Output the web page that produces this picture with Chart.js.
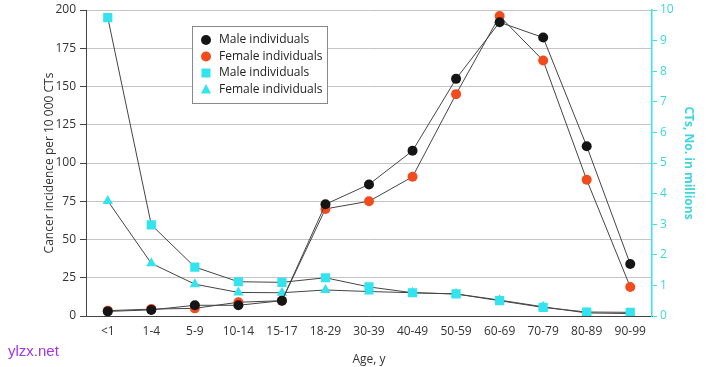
<!DOCTYPE html>
<html>
<head>
<meta charset="utf-8">
<script src="https://cdn.jsdelivr.net/npm/chart.js@4.4.1/dist/chart.umd.min.js"></script>
<style>
  html, body { margin: 0; padding: 0; background: #fff; }
  #wrap { position: relative; width: 724px; height: 367px; }
  #mark { position: absolute; left: 8px; top: 342px; font: 15px "Liberation Sans", Arial, sans-serif; color: #a335e8; }
</style>
</head>
<body>
<div id="wrap">
  <canvas id="chart" width="724" height="367"></canvas>
  <div id="mark">ylzx.net</div>
</div>
<script>
var ageGroups = ['<1', '1-4', '5-9', '10-14', '15-17', '18-29', '30-39', '40-49', '50-59', '60-69', '70-79', '80-89', '90-99'];

// cancer incidence per 10 000 CTs (left axis)
var maleIncidence   = [3, 4, 7, 7, 10, 73, 86, 108, 155, 192, 182, 111, 34];
var femaleIncidence = [3.5, 4.5, 5, 9, 10, 70, 75, 91, 145, 196, 167, 89, 19];

// number of CTs in millions (right axis)
var maleCTs   = [9.75, 2.98, 1.6, 1.12, 1.1, 1.25, 0.95, 0.76, 0.72, 0.5, 0.28, 0.13, 0.12];
var femaleCTs = [3.76, 1.72, 1.04, 0.77, 0.76, 0.85, 0.8, 0.76, 0.72, 0.52, 0.3, 0.1, 0.08];

var leftTicks = [0, 25, 50, 75, 100, 125, 150, 175, 200];
var rightTicks = [0, 1, 2, 3, 4, 5, 6, 7, 8, 9, 10];

var CYAN = '#33e3ee';
var CYAN_TEXT = '#3fd6e0';
var RED = '#f24b1e';
var BLACK = '#151515';
var LINE = '#444';
var FONT = '"Open Sans", "Liberation Sans", sans-serif';

// legend box drawn inside the plot, like the original figure
var boxLegend = {
  id: 'boxLegend',
  afterDraw: function (chart) {
    var c = chart.ctx;
    var a = chart.chartArea;
    var x0 = a.left + 106, y0 = a.top + 16, w = 135, h = 77;
    c.save();
    c.fillStyle = '#fff';
    c.fillRect(x0, y0, w, h);
    c.strokeStyle = '#888';
    c.lineWidth = 1;
    c.strokeRect(x0 + 0.5, y0 + 0.5, w, h);
    c.font = '12px ' + FONT;
    c.textBaseline = 'middle';
    chart.data.datasets.forEach(function (ds, i) {
      var y = y0 + 14 + i * 16.5;
      var x = x0 + 14;
      c.fillStyle = ds.pointBackgroundColor;
      c.beginPath();
      if (ds.pointStyle === 'circle') {
        c.arc(x, y, 5, 0, Math.PI * 2);
      } else if (ds.pointStyle === 'rect') {
        c.rect(x - 4.5, y - 4.5, 9, 9);
      } else {
        c.moveTo(x, y - 5.5); c.lineTo(x + 5, y + 4); c.lineTo(x - 5, y + 4); c.closePath();
      }
      c.fill();
      c.fillStyle = '#222';
      c.textAlign = 'left';
      c.fillText(ds.label, x0 + 27, y);
    });
    c.restore();
  }
};

function series(label, data, axis, color, style, radius) {
  return {
    label: label,
    data: data,
    yAxisID: axis,
    borderColor: LINE,
    borderWidth: 1,
    pointStyle: style,
    pointRadius: radius,
    pointBackgroundColor: color,
    pointBorderColor: color,
    pointBorderWidth: 0,
    tension: 0
  };
}

new Chart(document.getElementById('chart').getContext('2d'), {
  type: 'line',
  data: {
    labels: ageGroups,
    datasets: [
      series('Male individuals', maleIncidence, 'y', BLACK, 'circle', 5),
      series('Female individuals', femaleIncidence, 'y', RED, 'circle', 5),
      series('Male individuals', maleCTs, 'y2', CYAN, 'rect', 6.5),
      series('Female individuals', femaleCTs, 'y2', CYAN, 'triangle', 6)
    ]
  },
  plugins: [boxLegend],
  options: {
    responsive: false,
    animation: false,
    layout: { padding: { top: 9 } },
    plugins: { legend: { display: false }, tooltip: { enabled: false } },
    scales: {
      x: {
        offset: true,
        grid: { display: false, drawTicks: true, tickLength: 4, tickColor: '#444' },
        border: { color: '#444', width: 1 },
        ticks: { color: '#333', font: { family: FONT, size: 12 }, padding: 4, maxRotation: 0, autoSkip: false },
        title: { display: true, text: 'Age, y', color: '#333', font: { family: FONT, size: 12 }, padding: { top: 17, bottom: 0 } },
        afterFit: function (s) { s.height = 51; }
      },
      y: {
        position: 'left',
        min: 0, max: 200,
        afterBuildTicks: function (s) { s.ticks = leftTicks.map(function (v) { return {value: v}; }); },
        grid: { color: '#c4c4c4', lineWidth: 1, tickLength: 6, tickColor: '#444' },
        border: { color: '#444', width: 1 },
        ticks: { color: '#333', font: { family: FONT, size: 12, lineHeight: 1 }, padding: 4 },
        title: { display: true, text: 'Cancer incidence per 10 000 CTs', color: '#333', font: { family: FONT, size: 12 }, padding: { top: 42, bottom: 0 } },
        afterFit: function (s) { s.width = 86; }
      },
      y2: {
        position: 'right',
        min: 0, max: 10,
        afterBuildTicks: function (s) { s.ticks = rightTicks.map(function (v) { return {value: v}; }); },
        grid: { drawOnChartArea: false, tickLength: 5, tickColor: CYAN },
        border: { color: CYAN, width: 1.5 },
        ticks: { color: CYAN_TEXT, font: { family: FONT, size: 12, lineHeight: 1 }, padding: 3 },
        title: { display: true, text: 'CTs, No. in millions', color: CYAN_TEXT, font: { family: FONT, size: 12, weight: 'bold' }, padding: { top: 28, bottom: 0 } },
        afterFit: function (s) { s.width = 72; }
      }
    }
  }
});
</script>
</body>
</html>
